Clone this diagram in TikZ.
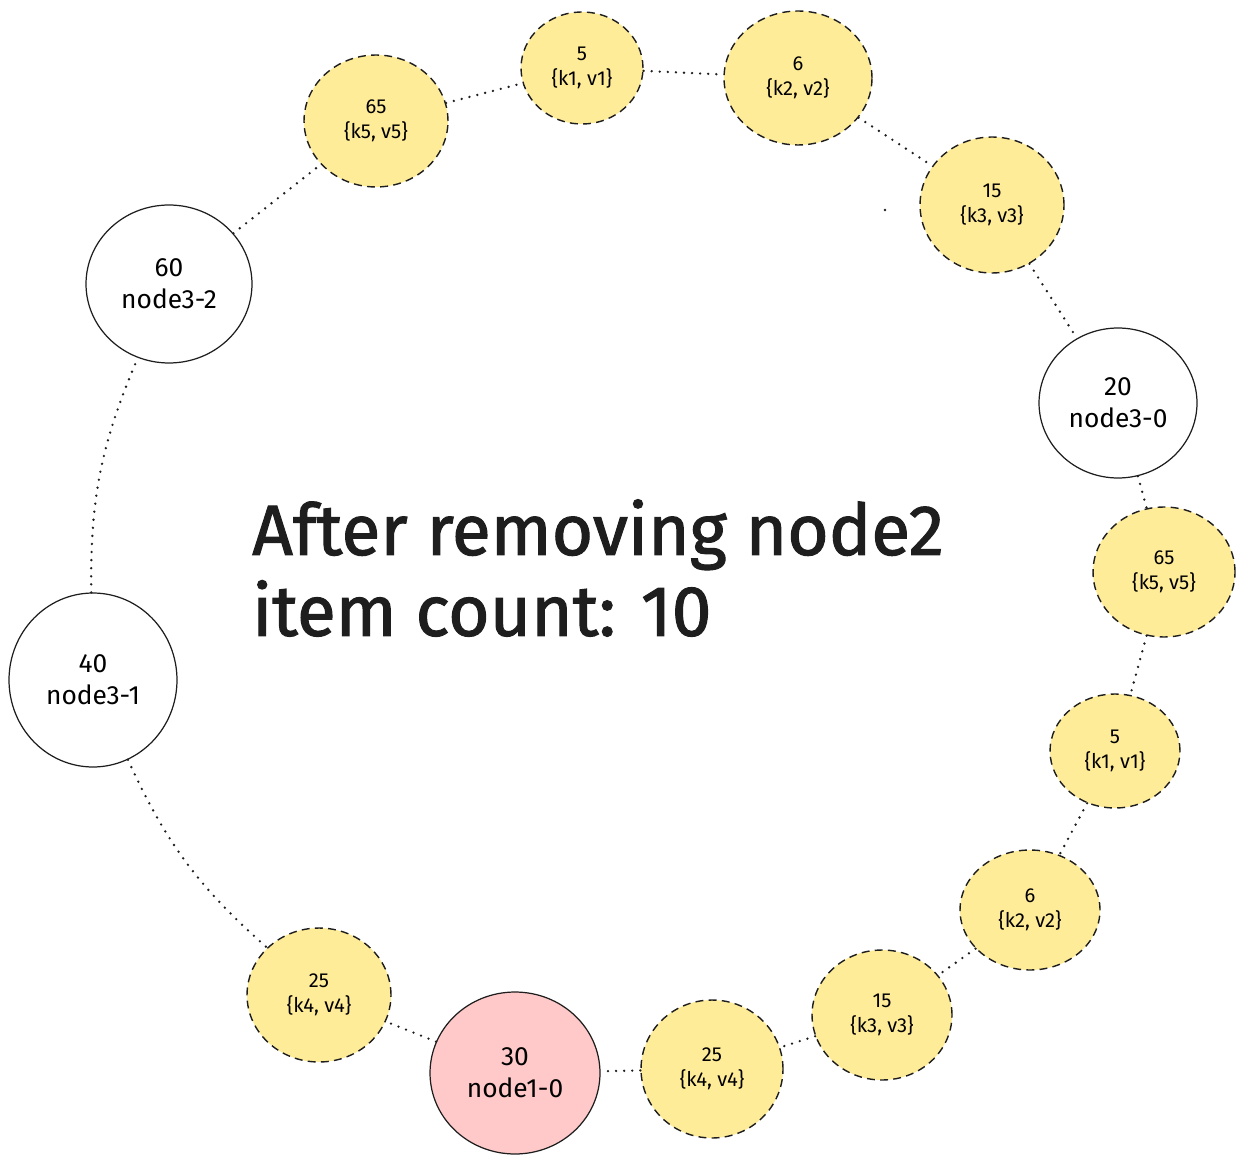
\documentclass[tikz,border=0pt]{standalone}
\usepackage{fontspec}
\setmainfont{Fira Sans}
\usepackage{xcolor}
\usetikzlibrary{shapes.geometric}

\definecolor{ink}{HTML}{1E1E1E}
\definecolor{itemfill}{HTML}{FFEC99}
\definecolor{hostfill}{HTML}{FFC9C9}

\begin{document}
\begin{tikzpicture}[x=0.02cm, y=-0.02cm,
    item/.style={ellipse, draw=ink, fill=itemfill, line width=0.8pt,
        dash pattern=on 4.5pt off 3pt, inner sep=0pt, align=center,
        font=\fontsize{11.5}{14}\selectfont},
    server/.style={ellipse, draw=ink, fill=white, line width=0.7pt,
        inner sep=0pt, align=center, font=\fontsize{15}{18}\selectfont},
    link/.style={draw=ink, line width=1.5pt, dash pattern=on 0pt off 4.6pt,
        line cap=round}]
    \useasboundingbox (0,0) rectangle (1246,1165);

    % Ring positions (upper arc)
    \node[item, minimum width=2.88cm, minimum height=2.64cm] (k5top) at (376,121) {65\\\{k5, v5\}};
    \node[item, minimum width=2.44cm, minimum height=2.24cm] (k1top) at (582,68) {5\\\{k1, v1\}};
    \node[item, minimum width=2.96cm, minimum height=2.68cm] (k2top) at (798,78) {6\\\{k2, v2\}};
    \node[item, minimum width=2.88cm, minimum height=2.72cm] (k3top) at (992,205) {15\\\{k3, v3\}};

    % Servers on the ring
    \node[server, minimum width=3.16cm, minimum height=3.0cm] (n20) at (1118,403) {20\\node3-0};
    \node[server, fill=hostfill, minimum width=3.4cm, minimum height=3.24cm] (n30) at (515,1073) {30\\node1-0};
    \node[server, minimum width=3.36cm, minimum height=3.48cm] (n40) at (93,680) {40\\node3-1};
    \node[server, minimum width=3.32cm, minimum height=3.16cm] (n60) at (169,284) {60\\node3-2};

    % Ring positions (right and lower arc)
    \node[item, minimum width=2.84cm, minimum height=2.6cm] (k5r) at (1164,572) {65\\\{k5, v5\}};
    \node[item, minimum width=2.6cm, minimum height=2.28cm] (k1r) at (1115,751) {5\\\{k1, v1\}};
    \node[item, minimum width=2.8cm, minimum height=2.4cm] (k2r) at (1030,910) {6\\\{k2, v2\}};
    \node[item, minimum width=2.8cm, minimum height=2.6cm] (k3r) at (882,1015) {15\\\{k3, v3\}};
    \node[item, minimum width=2.84cm, minimum height=2.76cm] (k4r) at (712,1069) {25\\\{k4, v4\}};
    \node[item, minimum width=2.88cm, minimum height=2.68cm] (k4l) at (319,995) {25\\\{k4, v4\}};

    % Dotted ring
    \draw[link] (n60) -- (k5top);
    \draw[link] (k5top) -- (k1top);
    \draw[link] (k1top) -- (k2top);
    \draw[link] (k2top) -- (k3top);
    \draw[link] (k3top) -- (n20);
    \draw[link] (n20) -- (k5r);
    \draw[link] (k5r) -- (k1r);
    \draw[link] (k1r) -- (k2r);
    \draw[link] (k2r) -- (k3r);
    \draw[link] (k3r) -- (k4r);
    \draw[link] (k4r) -- (n30);
    \draw[link] (n30) -- (k4l);
    \draw[link] (n40) to[bend right=12] (k4l);
    \draw[link] (n40) to[bend left=12] (n60);

    % stray dot
    \fill[ink] (885,210) circle (0.8pt);

    % Caption
    \node[anchor=west, align=left, text=ink, font=\fontsize{40.5}{46}\selectfont\addfontfeatures{FakeBold=1.5}] (title) at (246,568)
        {After removing node2\\item count: 10};
\end{tikzpicture}
\end{document}
